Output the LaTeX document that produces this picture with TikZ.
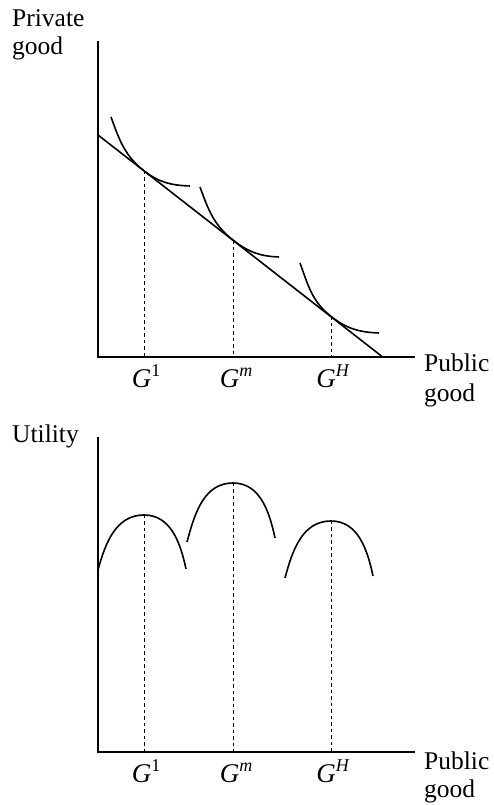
\documentclass[tikz,border=0pt]{standalone}
\usepackage{fontspec}
\setmainfont{Liberation Serif}
\begin{document}
\begin{tikzpicture}[x=1pt,y=1pt,
  axis/.style={line width=1.9pt},
  curve/.style={line width=1.6pt},
  guide/.style={line width=0.9pt,dash pattern=on 3.5pt off 3pt},
  lab/.style={inner sep=0pt,anchor=base west,font=\fontsize{25.5}{28}\selectfont},
  glab/.style={inner sep=0pt,anchor=base,font=\fontsize{27}{28}\selectfont}]
\useasboundingbox (0,0) rectangle (494,805);
% ---------- top panel ----------
\coordinate (O1) at (98,448);
\coordinate (Y1) at (98,764);
\coordinate (X1) at (415,448);
\draw[axis] (Y1) -- (O1) -- (X1);
\coordinate (B0) at (98,670);
\coordinate (B1) at (382,448.5);
\draw[curve] (B0) -- (B1);
\coordinate (T1) at (144,634.2);
\coordinate (T2) at (233,564.9);
\coordinate (T3) at (331,488.6);
\coordinate (T1b) at (144,448);
\coordinate (T2b) at (233,448);
\coordinate (T3b) at (331,448);
\coordinate (S1) at (111,688);
\coordinate (E1) at (190,619);
\coordinate (S2) at (200,618);
\coordinate (E2) at (279,548);
\coordinate (S3) at (300,542);
\coordinate (E3) at (379,472);
\draw[curve] (S1) to[out=-70,in=142] (T1) to[out=-38,in=178] (E1);
\draw[curve] (S2) to[out=-70,in=142] (T2) to[out=-38,in=178] (E2);
\draw[curve] (S3) to[out=-70,in=142] (T3) to[out=-38,in=178] (E3);
\draw[guide] (T1) -- (T1b);
\draw[guide] (T2) -- (T2b);
\draw[guide] (T3) -- (T3b);
\node[lab] (py1) at (12,778) {Private};
\node[lab] (py2) at (12,750) {good};
\node[lab] (px1) at (424,433) {Public};
\node[lab] (px2) at (424,403) {good};
\node[glab] (ga1) at (146,417) {\textit{G}\raisebox{0.42em}{\fontsize{18}{18}\selectfont 1}};
\node[glab] (ga2) at (236,417) {\textit{G}\raisebox{0.42em}{\fontsize{18}{18}\selectfont\textit{m}}};
\node[glab] (ga3) at (333,417) {\textit{G}\raisebox{0.42em}{\fontsize{18}{18}\selectfont\textit{H}}};
% ---------- bottom panel ----------
\coordinate (O2) at (98,53);
\coordinate (Y2) at (98,368);
\coordinate (X2) at (415,53);
\draw[axis] (Y2) -- (O2) -- (X2);
\coordinate (A1s) at (98,235);
\coordinate (A1p) at (144,290);
\coordinate (A1e) at (186,236);
\coordinate (A2s) at (187,263);
\coordinate (A2p) at (233,322);
\coordinate (A2e) at (275,267);
\coordinate (A3s) at (285,227);
\coordinate (A3p) at (331,284);
\coordinate (A3e) at (373,229);
\coordinate (A1b) at (144,53);
\coordinate (A2b) at (233,53);
\coordinate (A3b) at (331,53);
\draw[curve] (A1s) to[out=75,in=180] (A1p) to[out=0,in=102] (A1e);
\draw[curve] (A2s) to[out=75,in=180] (A2p) to[out=0,in=102] (A2e);
\draw[curve] (A3s) to[out=75,in=180] (A3p) to[out=0,in=102] (A3e);
\draw[guide] (A1p) -- (A1b);
\draw[guide] (A2p) -- (A2b);
\draw[guide] (A3p) -- (A3b);
\node[lab] (uy) at (12,362) {Utility};
\node[lab] (qx1) at (424,35) {Public};
\node[lab] (qx2) at (424,7) {good};
\node[glab] (gb1) at (146,22) {\textit{G}\raisebox{0.42em}{\fontsize{18}{18}\selectfont 1}};
\node[glab] (gb2) at (236,22) {\textit{G}\raisebox{0.42em}{\fontsize{18}{18}\selectfont\textit{m}}};
\node[glab] (gb3) at (333,22) {\textit{G}\raisebox{0.42em}{\fontsize{18}{18}\selectfont\textit{H}}};
\end{tikzpicture}
\end{document}
